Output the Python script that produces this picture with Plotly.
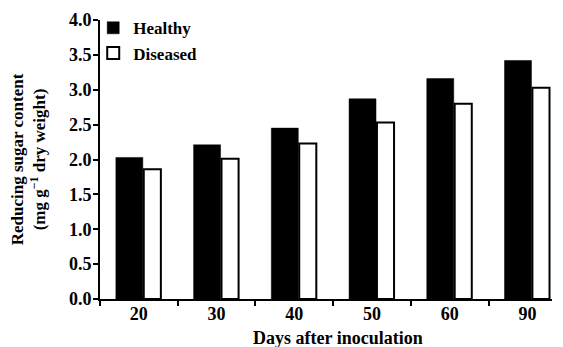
import plotly.graph_objects as go

categories = ["20", "30", "40", "50", "60", "90"]
healthy = [2.03, 2.21, 2.45, 2.87, 3.16, 3.42]
diseased = [1.86, 2.01, 2.23, 2.53, 2.80, 3.03]
y_ticks = [0.0, 0.5, 1.0, 1.5, 2.0, 2.5, 3.0, 3.5, 4.0]

FONT = "Liberation Serif"

fig = go.Figure()
fig.add_trace(go.Bar(
    x=categories, y=healthy, name="Healthy",
    marker=dict(color="black", line=dict(color="black", width=0.5)),
    offset=-0.296, width=0.347, cliponaxis=False,
))
fig.add_trace(go.Bar(
    x=categories, y=diseased, name="Diseased",
    marker=dict(color="white", line=dict(color="black", width=2)),
    offset=0.063, width=0.22, cliponaxis=False,
))

fig.update_layout(
    width=563, height=347,
    margin=dict(l=92, r=19, t=12, b=56, autoexpand=False),
    plot_bgcolor="white", paper_bgcolor="white",
    barmode="overlay",
    showlegend=True,
    legend=dict(
        x=-0.015, y=1.035, xanchor="left", yanchor="top",
        font=dict(family=FONT, size=17, color="black", weight="bold"),
        bgcolor="rgba(0,0,0,0)", itemwidth=30, tracegroupgap=0,
    ),
    font=dict(family=FONT, color="black"),
    annotations=[dict(
        text="Days after inoculation", xref="paper", yref="paper",
        x=0.527, y=-0.14, xanchor="center", yanchor="middle", showarrow=False,
        font=dict(family=FONT, size=18, color="black", weight="bold"),
    )],
)
fig.update_xaxes(
    type="category", range=[-0.5, 5.315], automargin=False,
    tickson="boundaries", ticks="outside", ticklen=5, tickwidth=2, tickcolor="black",
    showline=True, linecolor="black", linewidth=2,
    showgrid=False, zeroline=False, ticklabelstandoff=-3,
    tickfont=dict(family=FONT, size=18, color="black", weight="bold"),
)
fig.update_yaxes(
    range=[0, 4.0], tickvals=y_ticks, ticktext=[f"{v:.1f}" for v in y_ticks],
    automargin=False,
    ticks="outside", ticklen=5, tickwidth=2, tickcolor="black",
    showline=True, linecolor="black", linewidth=2,
    showgrid=False, zeroline=False, ticklabelstandoff=-2,
    tickfont=dict(family=FONT, size=18, color="black", weight="bold"),
    title=dict(text="Reducing sugar content<br>(mg g<sup>−1</sup> dry weight)",
               font=dict(family=FONT, size=17, color="black", weight="bold"), standoff=22),
)

fig.write_html("out.html")
